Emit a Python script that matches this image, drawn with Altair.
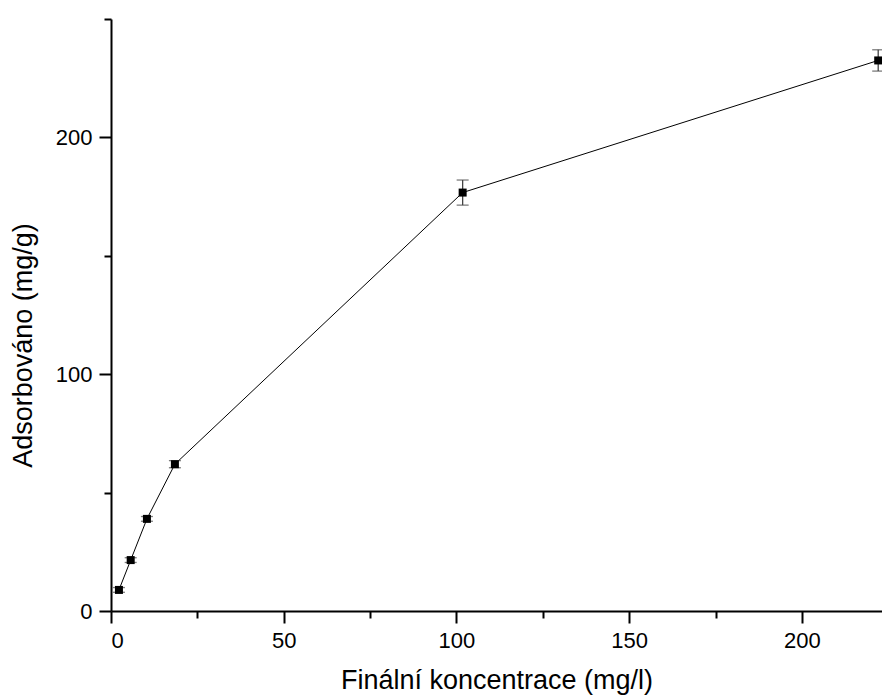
import altair as alt
import pandas as pd

# Data
conc = [2.3, 5.7, 10.4, 18.5, 101.8, 222.1]      # Finální koncentrace (mg/l)
ads = [8.9, 21.5, 38.9, 62.0, 176.7, 232.5]       # Adsorbováno (mg/g)
err = [1.0, 1.0, 1.0, 1.5, 5.3, 4.5]              # error (±)

x_ticks = [0, 25, 50, 75, 100, 125, 150, 175, 200]
y_ticks = [0, 50, 100, 150, 200, 250]

df = pd.DataFrame({"conc": conc, "ads": ads, "err": err})

FONT = "Liberation Sans"

x_scale = alt.Scale(domain=[0, 223.2], nice=False, zero=False)
y_scale = alt.Scale(domain=[0, 250], nice=False)

x_axis = alt.Axis(
    title="Finální koncentrace (mg/l)",
    values=x_ticks,
    labelExpr="datum.value % 50 === 0 ? datum.label : ''",
    tickSize={"condition": {"test": "datum.value % 50 !== 0", "value": 7}, "value": 12},
    grid=False,
    labelPadding=7,
    titleY=77,
    titleBaseline="alphabetic",
)
y_axis = alt.Axis(
    title="Adsorbováno (mg/g)",
    values=y_ticks,
    labelExpr="datum.value % 100 === 0 ? datum.label : ''",
    tickSize={"condition": {"test": "datum.value % 100 !== 0", "value": 7}, "value": 12},
    grid=False,
    labelPadding=7,
    titleX=-88,
    titleY=326,
    titleBaseline="middle",
)

base = alt.Chart(df).transform_calculate(
    lo="datum.ads - datum.err", hi="datum.ads + datum.err"
)

X = alt.X("conc:Q", scale=x_scale, axis=x_axis)
Y = alt.Y("ads:Q", scale=y_scale, axis=y_axis)

line = base.mark_line(color="black", strokeWidth=1).encode(x=X, y=Y)

rules = base.mark_rule(color="#444444", strokeWidth=1.3).encode(
    x=X, y=alt.Y("lo:Q", scale=y_scale, axis=y_axis), y2="hi:Q"
)
caps_lo = base.mark_tick(orient="horizontal", size=12, thickness=1.3, color="#444444").encode(
    x=X, y=alt.Y("lo:Q", scale=y_scale, axis=y_axis)
)
caps_hi = base.mark_tick(orient="horizontal", size=12, thickness=1.3, color="#444444").encode(
    x=X, y=alt.Y("hi:Q", scale=y_scale, axis=y_axis)
)
points = base.mark_square(size=64, color="black", filled=True, opacity=1).encode(x=X, y=Y)

chart = (
    alt.layer(line, rules, caps_lo, caps_hi, points)
    .properties(
        width=771,
        height=592,
        autosize=alt.AutoSizeParams(type="none"),
        padding={"left": 103, "top": 11, "right": 0, "bottom": 84},
    )
    .configure_view(stroke=None)
    .configure_axis(
        domainColor="black",
        domainWidth=2,
        tickColor="black",
        tickWidth=2,
        labelFont=FONT,
        labelFontSize=22,
        labelColor="black",
        titleFont=FONT,
        titleFontSize=27,
        titleFontWeight="normal",
        titleColor="black",
    )
)

chart.save("out.html", embed_options={"renderer": "svg", "actions": False})
